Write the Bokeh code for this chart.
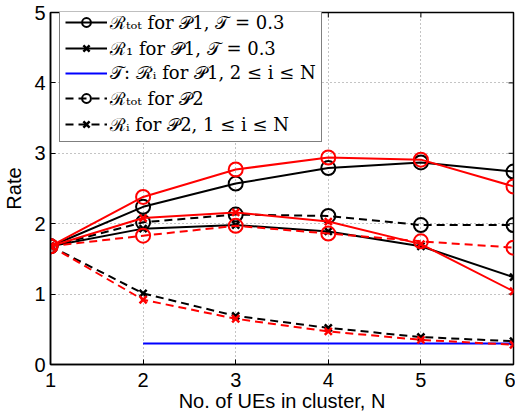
import math
from bokeh.plotting import figure
from bokeh.models import Range1d, Legend, LegendItem, FixedTicker
from bokeh.embed import file_html
from bokeh.resources import INLINE

N = [1, 2, 3, 4, 5, 6]
rtot_p1_black = [1.68, 2.24, 2.57, 2.79, 2.87, 2.74]
rtot_p1_red = [1.68, 2.38, 2.77, 2.94, 2.91, 2.53]
r1_p1_black = [1.68, 1.93, 1.98, 1.89, 1.68, 1.24]
r1_p1_red = [1.68, 2.08, 2.16, 2.03, 1.71, 1.04]
rtot_p2_black = [1.68, 2.02, 2.13, 2.11, 1.98, 1.98]
rtot_p2_red = [1.68, 1.83, 1.97, 1.86, 1.75, 1.66]
ri_p2_black = [1.68, 1.01, 0.69, 0.52, 0.39, 0.33]
ri_p2_red = [1.68, 0.92, 0.65, 0.47, 0.35, 0.28]
thr_N = [2, 3, 4, 5, 6]
thr = [0.3, 0.3, 0.3, 0.3, 0.3]
x_ticks = [1, 2, 3, 4, 5, 6]
y_ticks = [0, 1, 2, 3, 4, 5]
x_max = 6
y_max = 5

labels = [
    "\u211b\u209c\u2092\u209c for \U0001d4ab1, \U0001d4af = 0.3",
    "\u211b\u2081 for \U0001d4ab1, \U0001d4af = 0.3",
    "\U0001d4af: \u211b\u1d62 for \U0001d4ab1, 2 \u2264 i \u2264 N",
    "\u211b\u209c\u2092\u209c for \U0001d4ab2",
    "\u211b\u1d62 for \U0001d4ab2, 1 \u2264 i \u2264 N",
]

p = figure(width=515, height=414, output_backend="svg", toolbar_location=None,
           x_range=Range1d(1, x_max), y_range=Range1d(0, y_max),
           min_border_left=48, min_border_right=2, min_border_top=12, min_border_bottom=48)
p.outline_line_color = "black"
p.outline_line_width = 1.5
p.background_fill_color = "white"

for ax in (p.xaxis[0], p.yaxis[0]):
    ax.major_tick_in = 5
    ax.major_tick_out = 0
    ax.minor_tick_line_color = None
    ax.axis_line_color = "black"
    ax.axis_line_width = 1.5
    ax.major_label_text_font = "Liberation Sans"
    ax.major_label_text_font_size = "20px"
    ax.major_label_text_color = "black"
    ax.axis_label_text_font = "Liberation Sans"
    ax.axis_label_text_font_size = "20px"
    ax.axis_label_text_font_style = "normal"
    ax.axis_label_text_color = "black"
p.xaxis.ticker = FixedTicker(ticks=x_ticks)
p.yaxis.ticker = FixedTicker(ticks=y_ticks)
p.xaxis.axis_label = "No. of UEs in cluster, N"
p.yaxis.axis_label = "Rate"
p.xaxis.major_label_standoff = 8
p.xaxis.axis_label_standoff = 0
p.yaxis.major_label_standoff = 5
p.yaxis.axis_label_standoff = 6

p.grid.grid_line_color = "#888888"
p.grid.grid_line_dash = "1 3"
p.grid.grid_line_width = 1
p.xgrid.ticker = FixedTicker(ticks=x_ticks)
p.ygrid.ticker = FixedTicker(ticks=y_ticks)

# mirrored inward tick marks on the top and right edges (box style)
p.scatter(x_ticks, [y_max] * len(x_ticks), marker="dash", angle=math.pi / 2, size=10,
          line_color="black", line_width=1)
p.scatter([x_max] * len(y_ticks), y_ticks, marker="dash", size=10,
          line_color="black", line_width=1)

lw = 2
dash = "8 5"
ms_c = 14
ms_x = 10

def series(y, color, dashed, marker):
    ld = dash if dashed else "solid"
    r1 = p.line(N, y, line_color=color, line_width=lw, line_dash=ld)
    if marker == "circle":
        r2 = p.scatter(N, y, marker="circle", size=ms_c, fill_color=None, line_color=color, line_width=2)
    else:
        r2 = p.scatter(N, y, marker="x", size=ms_x, line_color=color, line_width=2.5)
    return [r1, r2]

rb1 = series(rtot_p1_black, "black", False, "circle")
rb2 = series(r1_p1_black, "black", False, "x")
rb4 = series(rtot_p2_black, "black", True, "circle")
rb5 = series(ri_p2_black, "black", True, "x")
rb3 = [p.line(thr_N, thr, line_color="#0000ff", line_width=2)]
series(rtot_p1_red, "red", False, "circle")
series(r1_p1_red, "red", False, "x")
series(rtot_p2_red, "red", True, "circle")
series(ri_p2_red, "red", True, "x")

legend = Legend(items=[
    LegendItem(label=labels[0], renderers=rb1),
    LegendItem(label=labels[1], renderers=rb2),
    LegendItem(label=labels[2], renderers=rb3),
    LegendItem(label=labels[3], renderers=rb4),
    LegendItem(label=labels[4], renderers=rb5),
], location=(9, 222))
legend.label_text_font = "DejaVu Serif"
legend.label_text_font_size = "18px"
legend.label_text_color = "black"
legend.glyph_width = 42
legend.glyph_height = 22
legend.label_height = 22
legend.spacing = 2
legend.padding = 5
legend.margin = 0
legend.label_standoff = 3
legend.border_line_color = "black"
legend.border_line_width = 1.5
legend.background_fill_alpha = 1
p.add_layout(legend, "center")

open("out.html", "w").write(file_html(p, INLINE))
